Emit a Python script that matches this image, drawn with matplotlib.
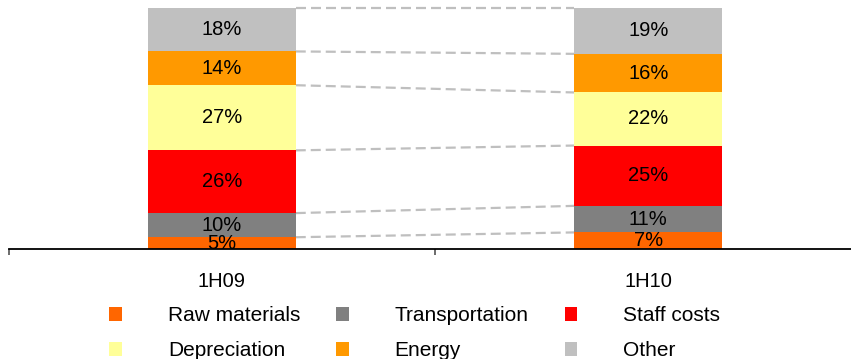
import matplotlib
matplotlib.use("Agg")
import matplotlib.pyplot as plt
import numpy as np

plt.rcParams['font.family'] = ['Liberation Sans', 'DejaVu Sans']
plt.rcParams['lines.scale_dashes'] = False

periods = ["1H09", "1H10"]
cost_items = ["Raw materials", "Transportation", "Staff costs",
              "Depreciation", "Energy", "Other"]
share_1h09 = [5, 10, 26, 27, 14, 18]
share_1h10 = [7, 11, 25, 22, 16, 19]
colors = ["#FF6600", "#808080", "#FF0000", "#FFFF99", "#FF9900", "#C0C0C0"]

W, H = 851, 359
fig = plt.figure(figsize=(W / 100, H / 100), dpi=100)

# axes spans x from -0.5 to 1.5 (right edge runs slightly past the canvas)
x0_px, x1_px = 8.5, 861.5
y0_px, y1_px = 249.3, 8.0
ax = fig.add_axes([x0_px / W, (H - y0_px) / H,
                   (x1_px - x0_px) / W, (y0_px - y1_px) / H])

shares = np.array([share_1h09, share_1h10], dtype=float)
xpos = np.arange(len(periods))
bar_w = 0.347

bottoms = np.zeros(len(periods))
handles = []
for i, item in enumerate(cost_items):
    vals = shares[:, i]
    h = ax.bar(xpos, vals, bar_w, bottom=bottoms, color=colors[i],
               label=item, linewidth=0, zorder=2)
    handles.append(h)
    for xp, b, v in zip(xpos, bottoms, vals):
        ax.text(xp, b + v / 2, f"{v:.0f}%", ha="center", va="center",
                fontsize=14.5, color="black", zorder=4)
    bottoms = bottoms + vals

# dashed connectors between the tops of matching segments
tops = np.cumsum(shares, axis=1)
for j in range(len(cost_items)):
    ax.plot([xpos[0] + bar_w / 2, xpos[1] - bar_w / 2],
            [tops[0, j], tops[1, j]], color="#BFBFBF", lw=1.6,
            linestyle=(0, (7.2, 3.6)), zorder=1, clip_on=False)

ax.set_xlim(-0.5, 1.5)
ax.set_ylim(0, 100)
for s in ["top", "right", "left"]:
    ax.spines[s].set_visible(False)
ax.spines["bottom"].set_linewidth(1.3)
ax.spines["bottom"].set_color("black")
ax.set_yticks([])

ax.set_xticks([-0.5, 0.5, 1.5])
ax.set_xticklabels([])
ax.tick_params(axis="x", which="major", length=4.5, width=1.3,
               color="#606060", direction="out")
ax.set_xticks(xpos, minor=True)
ax.set_xticklabels(periods, minor=True, fontsize=14.5)
ax.tick_params(axis="x", which="minor", length=0, pad=16)

# legend reads across rows: reorder for matplotlib's column-wise fill
ncol = 3
nrow = int(np.ceil(len(cost_items) / ncol))
order = [r * ncol + c for c in range(ncol) for r in range(nrow)]
leg = fig.legend(handles=[handles[k] for k in order],
                 labels=[cost_items[k] for k in order], ncol=ncol,
                 loc="upper left",
                 bbox_to_anchor=(109 / W, 1 - 306 / H),
                 bbox_transform=fig.transFigure,
                 frameon=False, fontsize=15, borderpad=0,
                 borderaxespad=0, handlelength=0.62, handleheight=0.68,
                 handletextpad=2.2, columnspacing=1.72, labelspacing=0.78)

fig.savefig("out.png", dpi=100)
